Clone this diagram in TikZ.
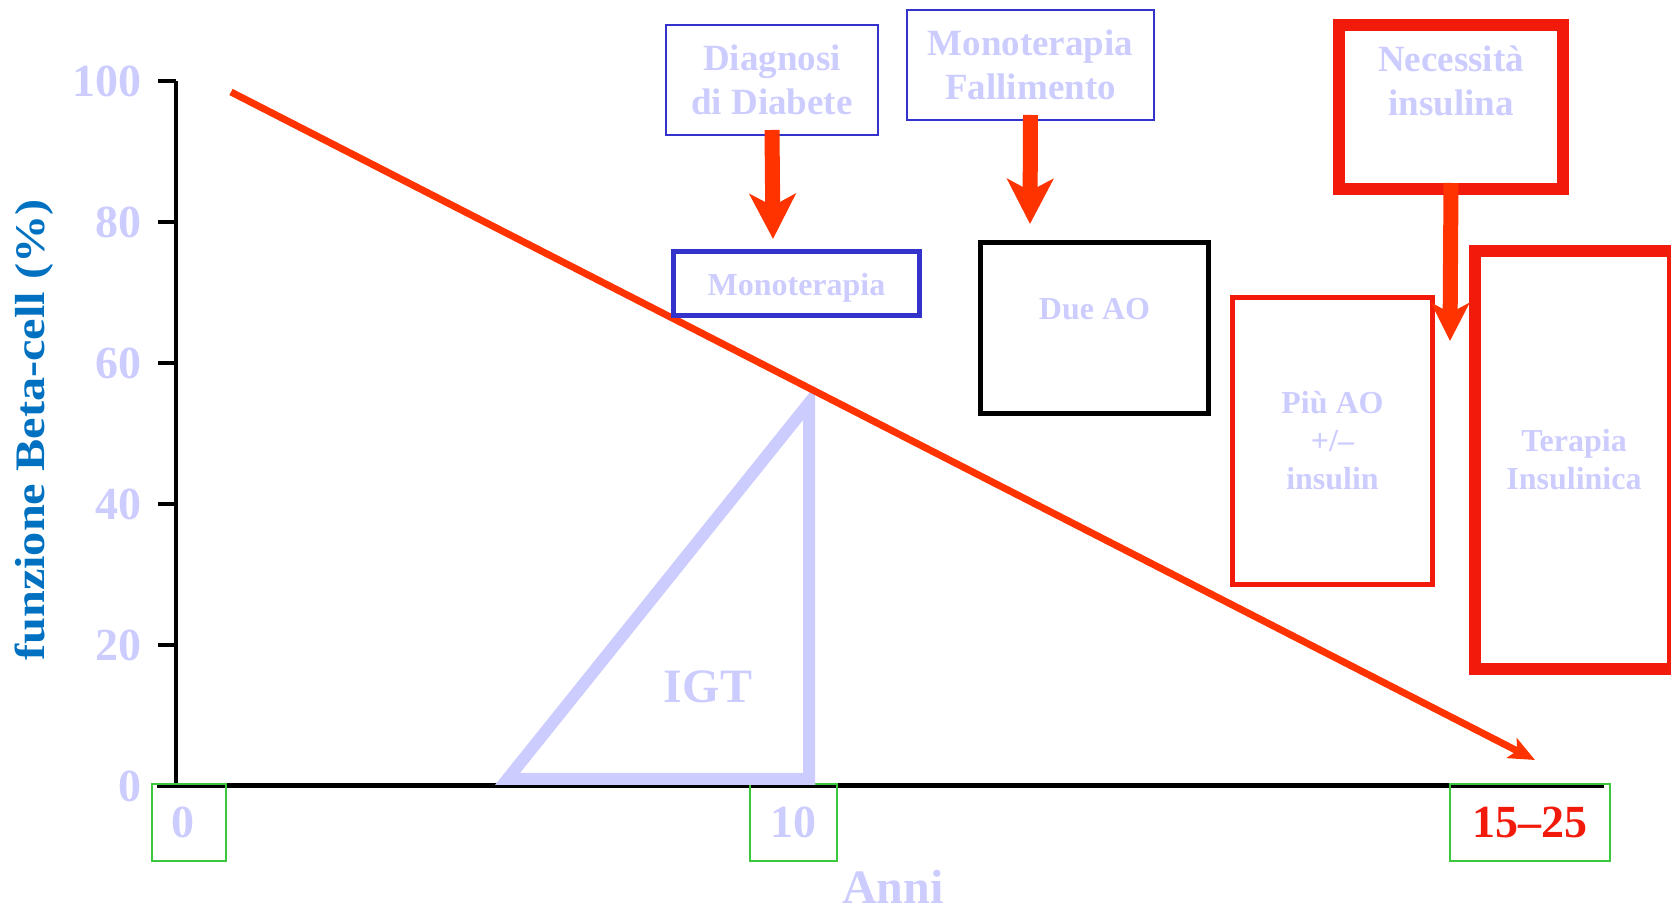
\documentclass[tikz,border=0pt]{standalone}
\usepackage{fontspec}
\setmainfont{Liberation Serif}
\usetikzlibrary{arrows.meta}
\definecolor{lav}{RGB}{204,204,255}
\definecolor{ylab}{RGB}{0,112,192}
\definecolor{redline}{RGB}{255,51,0}
\definecolor{boxred}{RGB}{242,26,10}
\definecolor{boxblue}{RGB}{51,51,204}
\definecolor{grn}{RGB}{60,200,60}
\tikzset{
  txt/.style={text=lav, font=\bfseries\fontsize{18.5pt}{22pt}\selectfont, align=center, inner sep=0pt},
  txtsm/.style={text=lav, font=\bfseries\fontsize{16pt}{19pt}\selectfont, align=center, inner sep=0pt},
  num/.style={text=lav, font=\bfseries\fontsize{23pt}{26pt}\selectfont, inner sep=0pt},
  bx/.style={draw, inner sep=0pt, align=center},
  gbox/.style={draw=grn, line width=1pt, inner sep=0pt},
  fat/.style={draw=redline, line width=7.5pt, -{Stealth[length=22.5pt, width=23pt, inset=6pt]}},
  tick/.style={line width=2pt, black}
}
\begin{document}
\begin{tikzpicture}[x=0.5pt, y=-0.5pt]
\useasboundingbox (0,0) rectangle (1671,913);
% axes
\coordinate (ytop) at (176,81);
\coordinate (ybot) at (176,786);
\coordinate (xl) at (157,786);
\coordinate (xr) at (1604,786);
\draw[line width=2pt] (ytop) -- (ybot);
\foreach \v/\yy in {100/81.5,80/222,60/363,40/504,20/645,0/786}{
  \coordinate (t\v) at (158,\yy);
  \draw[tick] (t\v) -- (176,\yy);
  \node[num, anchor=east] (tl\v) at (142,\yy) {\v};
}
\draw[line width=2.5pt] (xl) -- (xr);
% y label
\node[rotate=90, text=ylab, font=\bfseries\fontsize{21pt}{24pt}\selectfont, inner sep=0pt] (ylabel) at (34,430) {\scalebox{1.15}[1]{funzione Beta-cell (\%)}};
% x tick boxes
\node[gbox, minimum width=37pt, minimum height=38.5pt, label={[num, xshift=-3pt]center:0}] (g0) at (189,822.5) {};
\node[gbox, minimum width=43.5pt, minimum height=38.5pt, label={[num]center:10}] (g10) at (793.5,822.5) {};
\node[gbox, minimum width=80pt, minimum height=38.5pt, label={[num, text=boxred, xshift=0pt]center:15--25}] (g15) at (1530,822.5) {};
\node[num, anchor=base, font=\bfseries\fontsize{24pt}{26pt}\selectfont] (anni) at (893,904) {Anni};
% IGT triangle
\coordinate (ta) at (507.5,779);
\coordinate (tb) at (809,403);
\coordinate (tc) at (809,779);
\draw[lav, line width=6pt, line join=miter] (ta) -- (tb) -- (tc) -- cycle;
\node[num, font=\bfseries\fontsize{24pt}{26pt}\selectfont] (igt) at (708,687) {IGT};
% main decline line
\coordinate (ls) at (231,92);
\coordinate (le) at (1535,760);
\draw[redline, line width=3.5pt, -{Stealth[length=13pt, width=11pt, inset=3pt]}] (ls) -- (le);
% boxes
\node[bx, draw=boxblue, line width=1pt, minimum width=106pt, minimum height=55pt, txt] (dia) at (772,80) {Diagnosi\\di Diabete};
\node[bx, draw=boxblue, line width=1pt, minimum width=123.5pt, minimum height=55pt, txt] (mf) at (1030.5,65) {Monoterapia\\Fallimento};
\node[bx, draw=boxblue, line width=2.5pt, minimum width=123pt, minimum height=32pt, label={[txtsm, yshift=-2pt]center:Monoterapia}] (mono) at (796.5,283.5) {};
\node[bx, draw=black, line width=2.5pt, minimum width=114pt, minimum height=85.5pt, label={[txtsm, yshift=9.5pt]center:Due AO}] (due) at (1094.5,328) {};
\node[bx, draw=boxred, line width=6pt, minimum width=112pt, minimum height=82pt, label={[txt, yshift=13pt]center:Necessità\\insulina}] (nec) at (1451,107) {};
\node[bx, draw=boxred, line width=2.5pt, minimum width=100pt, minimum height=143.5pt, txtsm] (piu) at (1332.5,441) {Più AO\\+/–\\insulin};
\node[bx, draw=boxred, line width=6pt, minimum width=99pt, minimum height=209pt, txtsm] (ter) at (1574,460) {Terapia\\Insulinica};
% fat arrows
\coordinate (a1) at (773,239);
\coordinate (a2) at (1030,224);
\coordinate (a3) at (1450,341);
\draw[fat] ([yshift=3pt]dia.south) -- (a1);
\draw[fat] ([yshift=3pt]mf.south) -- (a2);
\draw[fat, line width=7.5pt, -{Stealth[length=19pt, width=19pt, inset=5pt]}] ([yshift=6pt]nec.south) -- (a3);
\end{tikzpicture}
\end{document}
